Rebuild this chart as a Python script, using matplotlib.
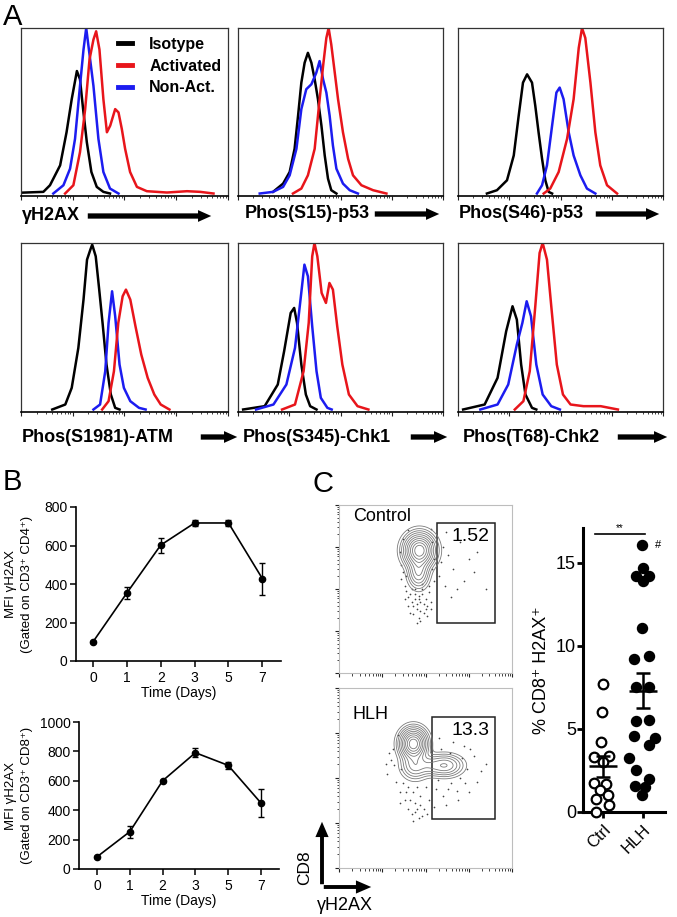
import numpy as np
import matplotlib
matplotlib.use("Agg")
import matplotlib.pyplot as plt
from matplotlib.patches import Rectangle, FancyArrowPatch

plt.rcParams['font.family'] = ['Liberation Sans', 'DejaVu Sans']

W, H = 677, 917

# ---- panel A: flow histograms, (x position 0-100, % of max)
h2ax_iso = [(0, 0.5), (10.8, 1), (14, 5), (18.9, 17), (22, 37), (24.5, 57), (27, 74), (28.5, 69),
            (30, 51), (31.8, 31), (34, 13), (36.6, 4), (39.8, 1), (43, 0)]
h2ax_non = [(15.6, 0), (20.5, 5), (23.7, 15), (26.1, 33), (28.5, 65), (30.2, 87), (31.5, 100),
            (32.6, 89), (35, 65), (37.4, 33), (39.8, 13), (43, 3), (47.1, 0)]
h2ax_act = [(21.3, 0), (25.3, 5), (28.5, 25), (31, 51), (33.1, 81), (35, 93), (36.3, 98), (37.9, 87),
            (39.8, 57), (41.5, 37), (43.1, 41), (45.5, 51), (47.1, 49), (48.7, 39), (50.3, 27),
            (52.7, 13), (56, 4), (60.8, 1.4), (70.5, 0.6), (80.2, 1.4), (86.6, 1), (93, 0)]

s15_iso = [(17.1, 1), (22, 6), (25.2, 13), (27.6, 27), (29.3, 47), (30.9, 67), (32.5, 79), (34.1, 85),
           (35.8, 79), (37.4, 69), (39, 57), (40.7, 41), (42.3, 23), (43.9, 9), (45.5, 2), (48, 0)]
s15_non = [(10.6, 0), (17.1, 1), (22, 4), (25.2, 11), (28.5, 27), (30.9, 51), (33.3, 63), (35.8, 66),
           (38.2, 73), (39.8, 80), (41.5, 69), (43.1, 61), (44.7, 47), (46.3, 29), (48, 15),
           (51.2, 6), (54.5, 2), (58.5, 0)]
s15_act = [(26.8, 0), (30.9, 3), (34.1, 11), (37.4, 27), (39.5, 53), (41.5, 77), (43.1, 94), (44.2, 100),
           (45.5, 90), (47.2, 73), (48.8, 57), (51.2, 37), (53.7, 21), (56.1, 11), (60.2, 5),
           (65.9, 2), (72.4, 0)]

s46_iso = [(14.1, 0), (19, 2), (23.9, 8), (27.2, 23), (29.6, 47), (31.7, 67), (33.7, 72), (36.1, 67),
           (37.7, 53), (39.3, 37), (41, 21), (42.6, 8), (44.2, 1), (45.9, 0)]
s46_non = [(38.5, 0), (41, 5), (43.4, 17), (45.9, 41), (48, 61), (49.6, 64), (51.5, 57), (54, 37),
           (56.4, 23), (59.7, 11), (62.9, 3), (67, 0)]
s46_act = [(41.8, 0), (45, 3), (49.1, 13), (53.2, 33), (56.4, 57), (58.9, 88), (60.5, 100), (62.1, 94),
           (64.6, 67), (67, 37), (69.4, 17), (72.7, 5), (77.6, 0)]

atm_iso = [(15.1, 0), (21.4, 3), (24.5, 13), (27.7, 37), (30.2, 66), (31.9, 90), (33.5, 96), (34.4, 99),
           (36.1, 92), (37.7, 73), (39.4, 52), (41.3, 27), (43.4, 9), (45.5, 1), (47.6, 0)]
atm_non = [(35, 0), (38.2, 3), (40.7, 23), (42.3, 52), (44, 71), (45.5, 56), (47.6, 27), (49.7, 13),
           (52.8, 5), (57, 1), (60.2, 0)]
atm_act = [(39.2, 0), (42.3, 5), (44.9, 23), (47, 52), (49.1, 68), (50.7, 72), (52.8, 66), (55.3, 50),
           (58.1, 33), (61.2, 19), (64.4, 9), (67.5, 3), (71.7, 0)]

chk1_iso = [(2.5, 0), (13, 2), (19.4, 15), (22.5, 35), (25.7, 58), (27.4, 61), (28.8, 52), (30.9, 27),
            (33.1, 9), (35.2, 2), (38.3, 0)]
chk1_non = [(8.8, 0), (17.3, 3), (23.6, 15), (27.8, 37), (30.5, 66), (32.4, 87), (34.1, 80), (36.2, 50),
            (38.3, 23), (40.4, 7), (43.6, 1), (45.7, 0)]
chk1_act = [(21.5, 0), (27.8, 3), (32, 23), (34.5, 52), (36.2, 92), (37.3, 100), (38.7, 92), (40.8, 70),
            (42.9, 64), (44.6, 76), (46.3, 72), (48.4, 50), (50.9, 27), (54.1, 9), (58.3, 2), (63.6, 0)]

chk2_iso = [(2.5, 0), (13, 3), (19.3, 19), (23.5, 47), (26.6, 62), (28.7, 54), (30.8, 27), (32.9, 9),
            (36.1, 1), (38.2, 0)]
chk2_non = [(10.9, 0), (19.3, 3), (24.5, 15), (28.7, 39), (31.4, 52), (33.5, 65), (35.6, 56), (38.2, 27),
            (41.3, 9), (45.5, 2), (49.7, 0)]
chk2_act = [(27.7, 0), (31.9, 5), (35, 23), (37.7, 62), (39.8, 94), (41.3, 100), (43.4, 90), (45.5, 62),
            (48.2, 27), (51.2, 9), (54.9, 3), (61.2, 2), (69.6, 2), (78, 0)]

hist_labels = ["\u03b3H2AX", "Phos(S15)-p53", "Phos(S46)-p53",
               "Phos(S1981)-ATM", "Phos(S345)-Chk1", "Phos(T68)-Chk2"]
legend_labels = ["Isotype", "Activated", "Non-Act."]

# ---- panel B: MFI time course
days = ["0", "1", "2", "3", "5", "7"]
cd4_mfi = [99, 353, 602, 717, 717, 428]
cd4_err = [5, 31, 39, 18, 14, 83]
cd8_mfi = [83, 254, 600, 791, 705, 449]
cd8_err = [5, 40, 8, 30, 22, 95]

# ---- panel C: flow contour populations (cx, cy, sx, sy, weight) and gates
ctrl_pops = [(46.5, 73, 4.6, 5.2, 1.0), (46, 60, 3.2, 5.0, 0.3)]
hlh_pops = [(43, 69, 4.0, 4.4, 1.0), (44, 57, 4.2, 4.0, 0.25), (61, 57, 5.5, 3.2, 0.3),
            (52, 57, 3.5, 3.0, 0.1)]
ctrl_gate = (56.6, 29.8, 90.2, 89.3)
hlh_gate = (53.8, 27.2, 90.2, 83.9)
ctrl_gate_pct = "1.52"
hlh_gate_pct = "13.3"
ctrl_dots = [(40, 45), (43, 40), (45, 38), (47, 42), (49, 36), (44, 47), (50, 44), (42, 50), (48, 50),
             (38, 52), (52, 48), (46, 33), (51, 40), (39, 58), (36, 64), (35, 72), (54, 62), (55, 55),
             (60, 75), (63, 70), (66, 62), (70, 78), (72, 55), (75, 68), (68, 50), (78, 60), (62, 84),
             (80, 72), (58, 58), (65, 45), (85, 50), (41, 36), (53, 38), (44, 44), (46, 46), (48, 47),
             (45, 41), (47, 37), (43, 35), (49, 41), (50, 38), (42, 42), (46, 44), (44, 50), (48, 53),
             (41, 47), (39, 49), (47, 31), (45, 30), (51, 34), (53, 42), (40, 40), (38, 44), (52, 52),
             (37, 60), (36, 56), (55, 68), (54, 78), (40, 85), (37, 80), (53, 86), (59, 66), (61, 52)]
hlh_dots = [(30, 60), (28, 52), (33, 48), (35, 42), (38, 38), (40, 33), (42, 30), (44, 36), (46, 28),
            (47, 40), (36, 55), (31, 66), (34, 74), (50, 45), (52, 38), (56, 44), (60, 40), (65, 47),
            (70, 50), (74, 55), (78, 62), (72, 68), (66, 70), (80, 48), (85, 58), (58, 72), (62, 35),
            (75, 42), (40, 45), (49, 33), (37, 47), (39, 42), (41, 38), (43, 42), (45, 45), (45, 33),
            (43, 26), (47, 35), (44, 31), (48, 29), (32, 57), (29, 64), (27, 58), (35, 36), (51, 30),
            (55, 34), (57, 49), (63, 44), (68, 43), (71, 61), (76, 66), (82, 54), (69, 38), (59, 66),
            (64, 64), (73, 47)]

# ---- panel C: % CD8+ H2AX+ per subject (value, horizontal jitter)
ctrl_pct = [7.7, 6.0, 4.2, 3.4, 3.3, 3.0, 1.75, 1.7, 1.35, 1.0, 0.8, 0.4, 0.0]
ctrl_jit = [0.0, -0.03, -0.06, 0.16, -0.22, 0.0, -0.22, 0.08, -0.07, 0.13, -0.18, 0.16, -0.18]
hlh_pct = [16.05, 14.7, 14.2, 14.2, 13.9, 11.05, 9.2, 9.4, 7.55, 7.5, 5.5, 5.55, 4.55, 4.45, 4.05,
           3.25, 2.55, 2.0, 1.55, 1.5, 1.0]
hlh_jit = [-0.03, 0.0, -0.18, 0.16, -0.01, -0.03, -0.22, 0.16, -0.18, 0.14, -0.18, 0.16, -0.22, 0.3,
           0.14, -0.34, -0.18, 0.16, -0.2, 0.05, -0.03]
ctrl_mean, ctrl_sem = 2.75, 0.65
hlh_mean, hlh_sem = 7.3, 1.05
groups = ["Ctrl", "HLH"]

BLACK, RED, BLUE = "#000000", "#e8151b", "#1c1cf0"


def rect(x0, y0, x1, y1):
    return [x0 / W, 1 - y1 / H, (x1 - x0) / W, (y1 - y0) / H]


def fp(x, y):
    return (x / W, 1 - y / H)


def arrow(x0, y0, x1, y1, tail=0.38, head_w=0.85, head_l=0.95, ms=10):
    fig.add_artist(FancyArrowPatch(fp(x0, y0), fp(x1, y1), transform=fig.transFigure,
                                   arrowstyle="simple,head_length=%g,head_width=%g,tail_width=%g"
                                   % (head_l, head_w, tail),
                                   mutation_scale=ms, color="k", lw=0))


def log_ticks(ax, axis="x", major_len=3, minor_len=1.6, color="#222222"):
    majors = [0, 25, 50, 75, 100]
    minors = [25 * d + 25 * np.log10(k) for d in range(4) for k in range(2, 10)]
    if axis == "x":
        ax.set_xticks(majors)
        ax.set_xticks(minors, minor=True)
        ax.tick_params(axis="x", which="major", length=major_len, width=0.8, color=color,
                       labelbottom=False, direction="out")
        ax.tick_params(axis="x", which="minor", length=minor_len, width=0.6, color=color)
    else:
        ax.set_yticks(majors)
        ax.set_yticks(minors, minor=True)
        ax.tick_params(axis="y", which="major", length=major_len, width=0.8, color=color,
                       labelleft=False, direction="out")
        ax.tick_params(axis="y", which="minor", length=minor_len, width=0.6, color=color)


fig = plt.figure(figsize=(W / 100, H / 100), dpi=100)

# ================= A =================
hist_boxes = [(21, 28, 228, 196), (238, 28, 443, 196), (458, 28, 663, 196),
              (21, 243, 228, 412), (238, 243, 443, 412), (458, 243, 663, 412)]
hist_curves = [(h2ax_iso, h2ax_non, h2ax_act), (s15_iso, s15_non, s15_act),
               (s46_iso, s46_non, s46_act), (atm_iso, atm_non, atm_act),
               (chk1_iso, chk1_non, chk1_act), (chk2_iso, chk2_non, chk2_act)]
label_pos = [(22, 216, 85, 214), (245, 214, 372, 442), (459, 214, 593, 662),
             (22, 437, 198, 240), (243, 437, 408, 450), (463, 437, 615, 670)]

for i, (bx, curves) in enumerate(zip(hist_boxes, hist_curves)):
    ax = fig.add_axes(rect(*bx))
    lines = []
    for pts, col in zip(curves, [BLACK, BLUE, RED]):
        xs, ys = zip(*pts)
        ln, = ax.plot(xs, ys, color=col, lw=1.8)
        lines.append(ln)
    ax.set_xlim(0, 100)
    ax.set_ylim(-1.5, 100)
    ax.set_yticks([])
    log_ticks(ax, "x")
    for sp in ax.spines.values():
        sp.set_linewidth(0.9)
        sp.set_color("#333333")
    ax.spines["bottom"].set_color("k")
    ax.spines["bottom"].set_linewidth(1.2)
    if i == 0:
        leg = ax.legend([lines[0], lines[2], lines[1]], legend_labels, loc="upper left",
                        bbox_to_anchor=fp(118, 37), bbox_transform=fig.transFigure,
                        frameon=False, borderpad=0, borderaxespad=0, handlelength=0.85,
                        handletextpad=1.1, labelspacing=0.42,
                        prop={"weight": "bold", "size": 11.5})
        for h in leg.legend_handles:
            h.set_linewidth(3.5)
    tx, ty, ax0, ax1 = label_pos[i]
    fig.text(*fp(tx, ty), hist_labels[i], ha="left", va="center", fontsize=13,
             fontweight="bold")
    arrow(ax0, ty, ax1, ty)

fig.text(*fp(3, 25), "A", fontsize=21, va="baseline")
fig.text(*fp(3, 490), "B", fontsize=21, va="baseline")
fig.text(*fp(312, 492), "C", fontsize=21, va="baseline")


# ================= B =================
def time_course(box, vals, errs, ymax, ystep, xlo, cell):
    ax = fig.add_axes(rect(*box))
    x = np.arange(len(days))
    ax.errorbar(x, vals, yerr=errs, color="k", lw=1.2, marker="o", ms=4.5,
                capsize=2.5, elinewidth=1.0, capthick=1.0)
    ax.set_xlim(xlo, 5.55)
    ax.set_ylim(0, ymax)
    ax.set_xticks(x)
    ax.set_xticklabels(days)
    ax.set_yticks(np.arange(0, ymax + 1, ystep))
    for s in ["top", "right"]:
        ax.spines[s].set_visible(False)
    for s in ["left", "bottom"]:
        ax.spines[s].set_linewidth(1.2)
    ax.tick_params(length=4, width=1.1, labelsize=10, pad=2)
    ax.tick_params(axis="x", pad=3)
    ax.set_xlabel("Time (Days)", fontsize=10, labelpad=1)
    cy = (box[1] + box[3]) / 2
    fig.text(*fp(11, cy), "MFI \u03b3H2AX", rotation=90, ha="center", va="center", fontsize=9.5)
    fig.text(*fp(27, cy), "(Gated on CD3\u207a CD%s\u207a)" % cell, rotation=90,
             ha="center", va="center", fontsize=9.5)
    return ax


time_course((76, 507, 281, 661), cd4_mfi, cd4_err, 800, 200, -0.5, "4")
time_course((79, 722, 279, 869), cd8_mfi, cd8_err, 1000, 200, -0.55, "8")

# ================= C: flow plots =================
gx, gy = np.meshgrid(np.linspace(0, 100, 300), np.linspace(0, 100, 300))


def flow_plot(box, pops, gate, pct, dots, name, name_y):
    ax = fig.add_axes(rect(*box))
    dens = np.zeros_like(gx)
    for cx, cy, sx, sy, w in pops:
        dens += w * np.exp(-((gx - cx) ** 2 / (2 * sx ** 2) + (gy - cy) ** 2 / (2 * sy ** 2)))
    lv = dens.max() * np.array([0.02, 0.045, 0.08, 0.13, 0.2, 0.29, 0.4, 0.53, 0.68, 0.84])
    ax.contour(gx, gy, dens, levels=lv, colors="#7a7a7a", linewidths=0.6)
    dx, dy = zip(*dots)
    ax.scatter(dx, dy, s=1.5, color="#444444", lw=0)
    x0, y0, x1, y1 = gate
    ax.add_patch(Rectangle((x0, y0), x1 - x0, y1 - y0, fill=False, ec="#222222", lw=1.1))
    ax.text(x1 - 3, y1 - 3, pct, ha="right", va="top", fontsize=14)
    ax.text(8, name_y, name, ha="left", va="top", fontsize=13)
    ax.set_xlim(0, 100)
    ax.set_ylim(0, 100)
    log_ticks(ax, "x", major_len=3, minor_len=1.8)
    log_ticks(ax, "y", major_len=3, minor_len=1.8)
    for sp in ax.spines.values():
        sp.set_color("#bdbdbd")
        sp.set_linewidth(0.8)
    return ax


flow_plot((339, 505, 512, 673), ctrl_pops, ctrl_gate, ctrl_gate_pct, ctrl_dots, "Control", 98)
flow_plot((339, 688, 512, 868), hlh_pops, hlh_gate, hlh_gate_pct, hlh_dots, "HLH", 90)

# axis arrows (CD8 / gammaH2AX)
arrow(322, 887, 322, 819, tail=0.28, head_w=0.95, head_l=1.1)
arrow(321, 887, 374, 887, tail=0.28, head_w=0.95, head_l=1.1)
fig.text(*fp(305, 868), "CD8", rotation=90, ha="center", va="center", fontsize=12.5)
fig.text(*fp(345, 905), "\u03b3H2AX", ha="center", va="center", fontsize=13)

# ================= C: dot plot =================
ax = fig.add_axes(rect(583, 528, 665, 812))
ax.scatter(np.array(ctrl_jit), ctrl_pct, s=48, facecolor="white", edgecolor="k", lw=1.6,
           zorder=3, clip_on=False)
ax.scatter(1 + np.array(hlh_jit), hlh_pct, s=52, color="k", zorder=3, clip_on=False)
for xc, m, e in [(0, ctrl_mean, ctrl_sem), (1, hlh_mean, hlh_sem)]:
    ax.hlines(m, xc - 0.35, xc + 0.35, color="k", lw=1.8, zorder=4)
    ax.errorbar(xc, m, yerr=e, color="k", lw=1.8, capsize=5, capthick=1.8, zorder=4)
ax.plot([-0.2, 1.05], [16.75, 16.75], color="k", lw=1.2, clip_on=False)
ax.text(0.42, 16.8, "**", ha="center", va="bottom", fontsize=7)
ax.text(1.3, hlh_pct[0], "#", ha="left", va="center", fontsize=8)
ax.set_xlim(-0.5, 1.55)
ax.set_ylim(0, 17.1)
ax.set_yticks([0, 5, 10, 15])
ax.set_xticks([0, 1])
ax.set_xticklabels(groups, rotation=45, ha="right", rotation_mode="anchor")
for s in ["top", "right"]:
    ax.spines[s].set_visible(False)
for s in ["left", "bottom"]:
    ax.spines[s].set_linewidth(2.2)
ax.tick_params(length=4, width=2, labelsize=13, pad=1)
ax.tick_params(axis="x", labelsize=12, pad=3)
ax.set_ylabel("% CD8\u207a H2AX\u207a", fontsize=13, labelpad=4)

fig.savefig("out.png", dpi=100)
